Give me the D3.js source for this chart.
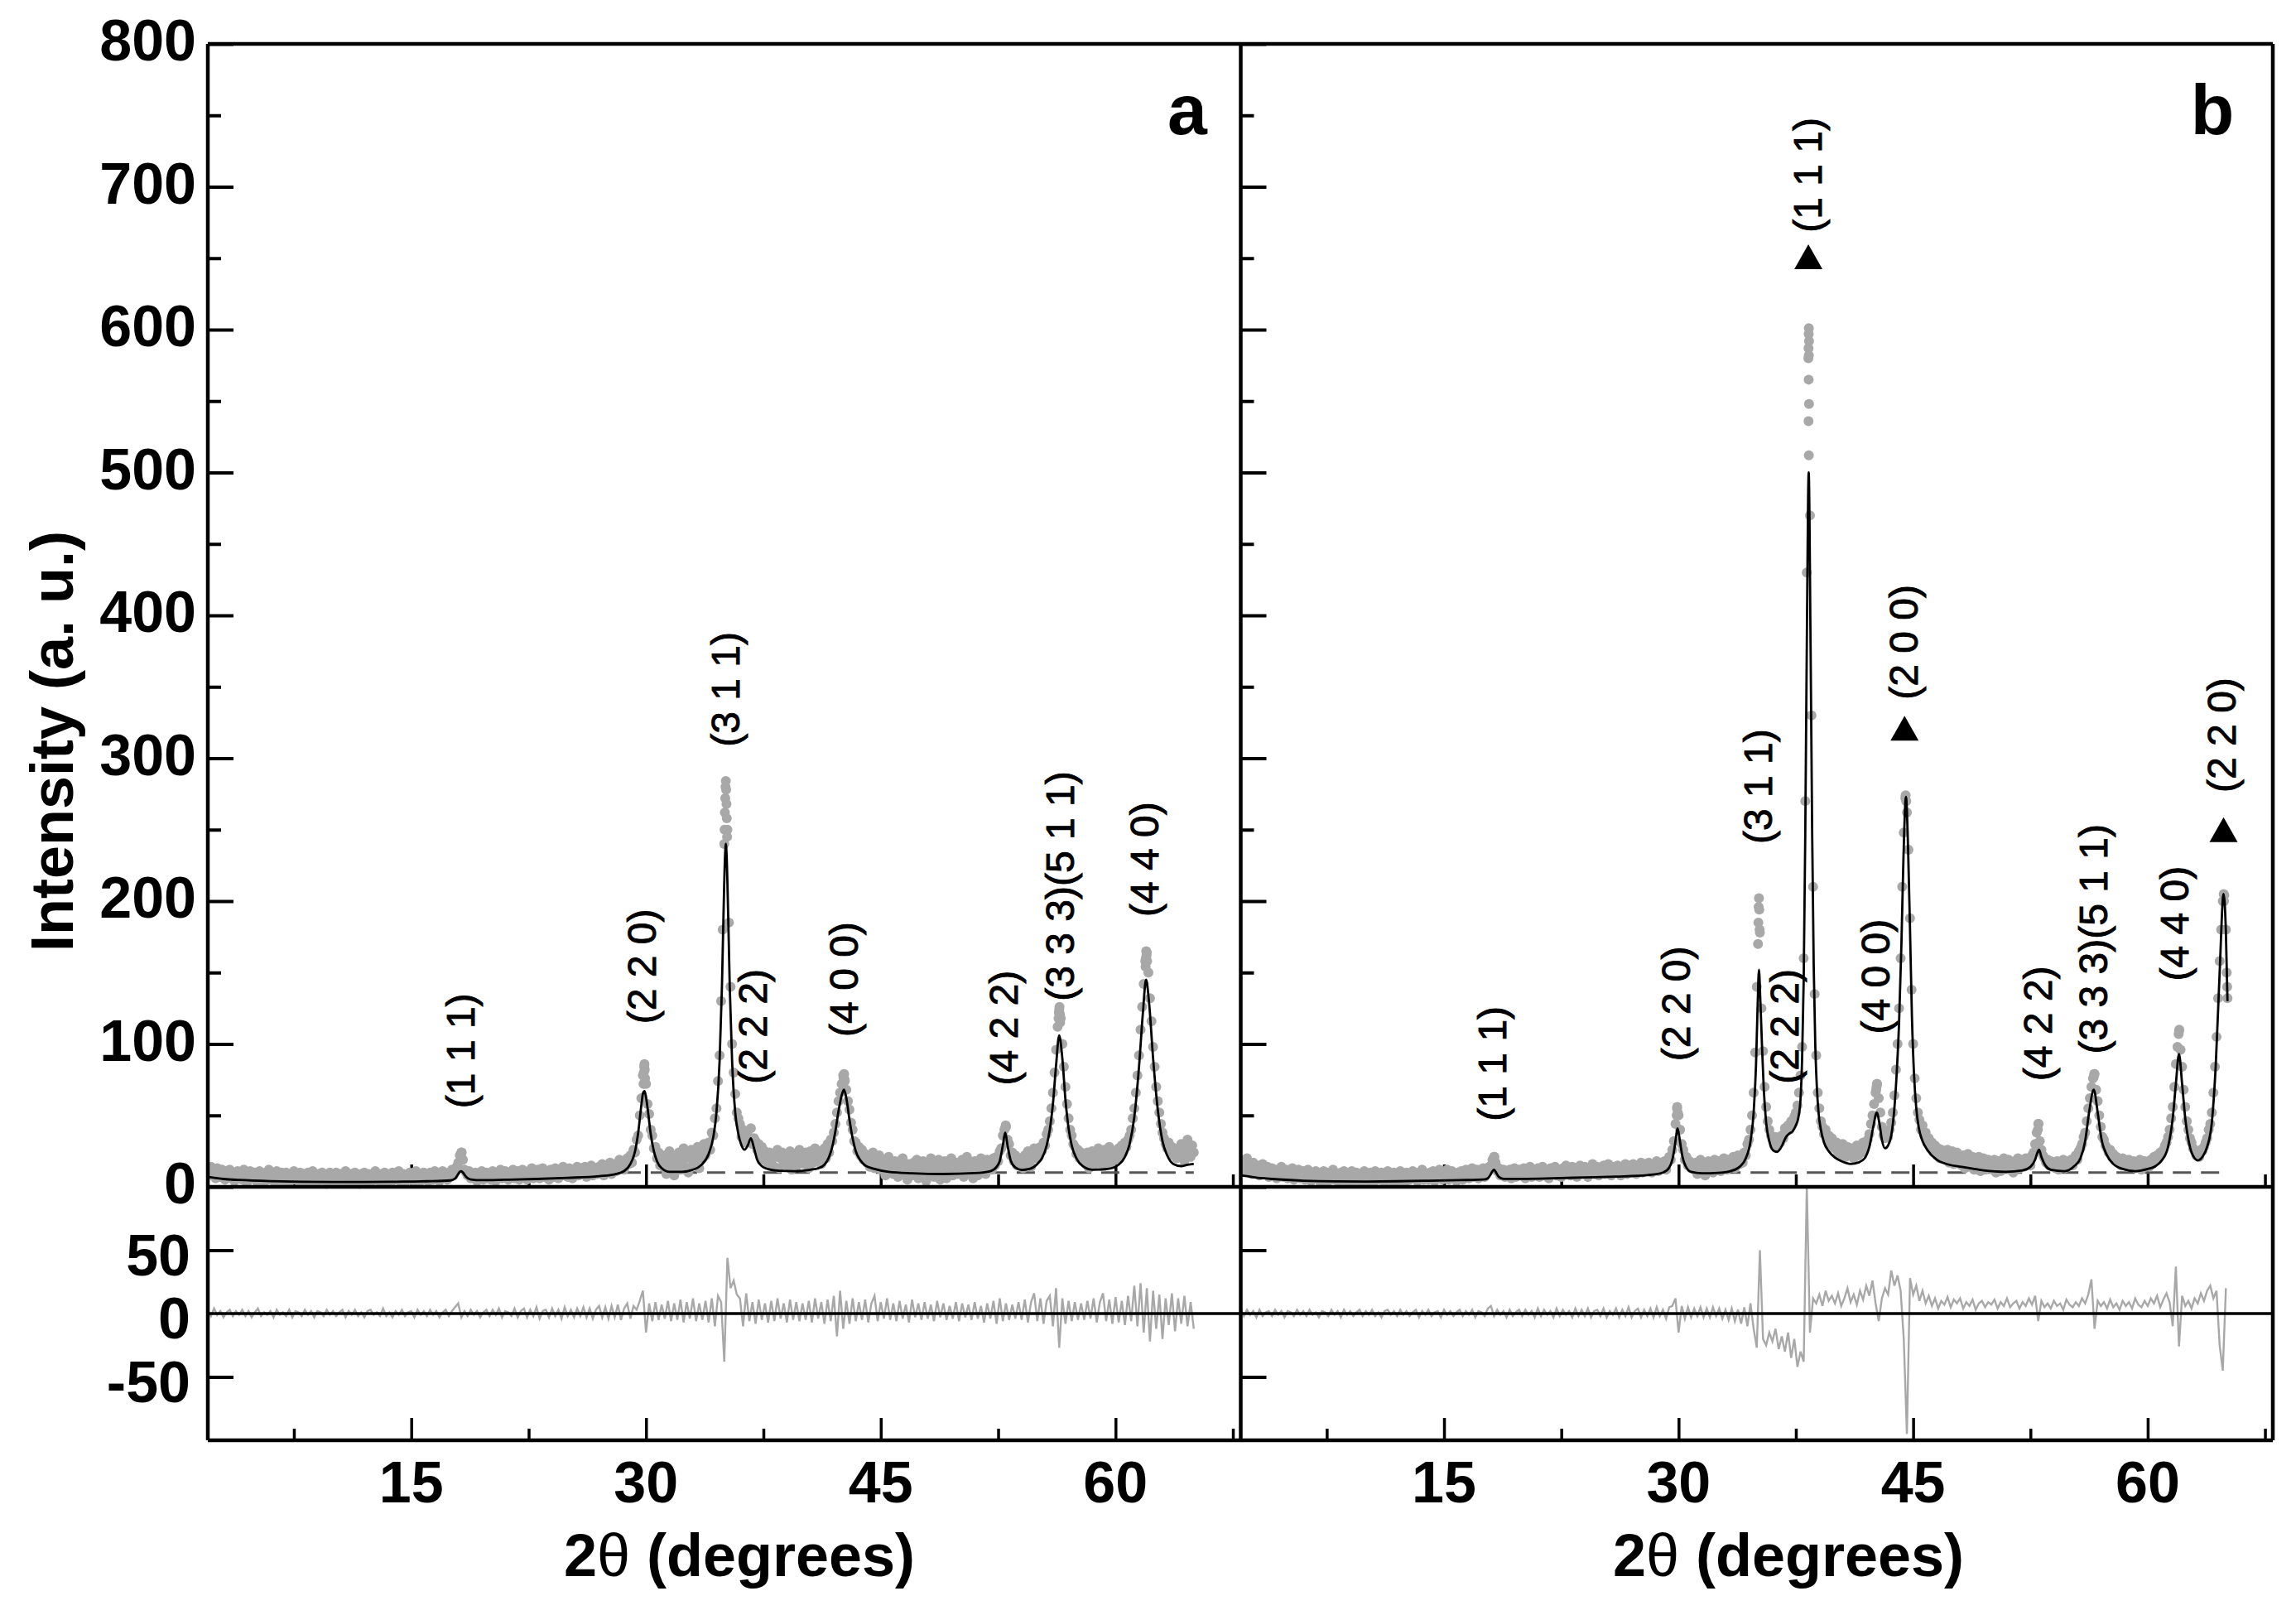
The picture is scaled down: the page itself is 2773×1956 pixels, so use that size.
<!DOCTYPE html>
<html><head><meta charset="utf-8">
<script src="https://cdn.jsdelivr.net/npm/d3@7"></script>
<style>body{margin:0;background:#fff}svg{display:block}text{font-family:"Liberation Sans",Arial,Helvetica,sans-serif}</style>
</head><body><svg id="c" width="2773" height="1956"></svg>
<script>
// ---------------- DATA ----------------
const xDomain = [2, 68];
const mainDomain = [0, 800];
const resDomain = [-100, 100];
const mainTicks = [0,100,200,300,400,500,600,700,800];
const mainMinor = [50,150,250,350,450,550,650,750];
const resTicks = [-50,0,50];
const xMajor = [15,30,45,60];
const xMinor = [7.5,22.5,37.5,52.5,67.5];
const obsStart = 2.0, obsStep = 0.1;   // observed scan grid (deg)
const resStart = 2.0, resStep = 0.2;   // residual grid (deg)

// panel a: observed intensity, 2.0 .. 65.0 deg
const obsA = [
12,9,14,8,11,6,13,10,7,12, 9,5,11,8,12,6,10,4,9,11, 7,10,5,12,8,3,9,11,6,8, 10,4,8,11,6,9,3,10,7,12,
5,9,7,3,11,8,6,10,4,8, 10,6,3,9,7,11,5,8,4,10, 7,3,9,6,10,4,8,11,5,7, 3,9,6,10,5,8,2,7,10,6,
8,4,10,6,3,9,7,5,11,4, 6,9,3,8,10,5,7,2,9,6, 10,4,7,9,3,8,6,11,5,7, 3,9,6,10,4,8,7,3,10,6,
8,5,11,4,7,9,3,8,6,10, 5,8,4,11,7,3,9,6,10,5, 8,4,10,7,5,11,6,9,4,8, 11,6,9,5,10,7,12,8,10,14,
17,22,24,19,12,10,8,11,6,9, 6,10,4,9,7,11,5,8,10,6, 9,5,11,7,4,10,8,12,6,9, 11,7,5,10,8,12,6,9,11,5,
9,12,7,10,5,11,8,13,6,10, 8,12,6,10,13,7,11,9,5,12, 10,7,13,9,6,12,10,14,8,11, 7,13,10,6,12,9,14,8,11,13,
9,14,7,12,10,15,8,13,11,9, 14,10,16,8,12,15,11,17,9,13, 16,11,15,19,13,17,12,18,20,16, 22,17,26,24,33,36,50,62,78,86,
72,58,51,40,36,27,28,20,24,15, 20,14,22,9,18,25,13,19,8,21, 16,24,12,19,27,14,22,10,20,26, 15,23,18,28,13,25,20,30,22,27,
31,26,38,36,48,55,74,92,130,180, 240,284,250,185,140,100,80,65,52,48, 44,35,40,31,38,36,33,41,30,34, 32,26,30,22,28,19,25,21,16,24,
18,23,14,21,26,13,20,24,16,22, 15,21,25,12,19,23,14,20,26,17, 22,16,24,19,13,25,20,17,27,21, 18,25,16,22,27,20,30,24,33,32,
38,44,52,60,66,72,78,74,68,60, 54,45,40,32,31,25,28,22,26,19, 23,17,21,14,19,24,13,20,16,22, 12,19,15,8,17,21,11,16,9,18,
14,7,18,12,20,9,15,5,16,13, 8,17,11,19,6,14,10,18,12,4, 15,9,20,13,7,16,11,19,5,14, 10,18,6,15,12,20,8,14,17,9,
16,11,19,7,14,21,10,17,13,6, 18,12,8,16,20,11,15,9,19,14, 17,12,20,15,21,18,25,27,36,40, 42,33,30,22,24,18,22,15,20,17,
18,13,22,16,25,19,14,23,27,20, 26,22,28,25,31,29,37,40,46,55, 66,80,96,112,124,118,100,84,70,58, 48,40,36,30,28,23,26,20,24,18,
21,16,24,13,20,25,15,22,18,27, 17,23,14,26,19,22,28,16,24,20, 25,19,27,22,29,24,31,28,33,36, 40,48,55,66,78,92,110,126,142,158,
164,150,132,116,98,84,70,60,52,44, 38,34,30,27,31,24,28,22,26,20, 27,22,30,24,18,28,33,25,21,29, 24
];
// panel a: extra observed points read near peak tops [deg, intensity]
const obsPeakA = [[18.18,23],[18.22,24],[29.84,72],[29.86,80],[29.88,84],[29.92,82],[29.94,76],
[35.02,250],[35.04,262],[35.06,272],[35.08,280],[35.12,278],[35.14,268],[35.16,258],[35.18,245],
[42.58,72],[42.62,76],[42.66,79],[42.7,75],[52.94,41],[52.98,43],
[56.36,118],[56.38,122],[56.42,126],[56.44,121],[56.46,115],
[61.92,154],[61.94,160],[61.96,165],[61.98,162],[62.02,158]];
// panel a: calculated profile [deg, intensity]
const fitA = [[2,7],[3,5.5],[4,4.8],[6,4],[8,3.6],[10,3.4],[12,3.4],[14,3.6],[16,3.9],[17.5,4.5],[17.8,5.8],[18.0,9],[18.1,10.5],[18.2,11],[18.3,10],[18.5,7],[18.8,5.2],[19.5,4.7],[21,5],[23,5.5],[25,6.3],[27,7.5],[28,8.8],[28.6,11],[29.0,16],[29.3,25],[29.5,38],[29.7,57],[29.82,66],[29.9,67],[29.98,64],[30.1,55],[30.3,37],[30.5,25],[30.7,18],[31.0,13],[31.5,10.5],[32.3,10.5],[33.0,12],[33.5,15],[34.0,23],[34.3,35],[34.5,52],[34.7,88],[34.85,140],[34.95,190],[35.05,232],[35.1,240],[35.15,232],[35.25,190],[35.35,140],[35.5,88],[35.7,52],[35.9,37],[36.1,29],[36.3,26],[36.5,29],[36.7,34],[36.9,27],[37.1,19],[37.4,14.5],[37.8,12.4],[38.5,11.2],[39.5,11],[40.5,12],[41.0,13],[41.4,15.5],[41.7,21],[41.9,28],[42.1,39],[42.3,53],[42.5,64],[42.65,68],[42.8,62],[43.0,47],[43.2,34],[43.4,25],[43.7,18.5],[44.0,15],[44.6,12.5],[45.5,10.5],[47,9.5],[49,9],[51,9.6],[52.0,11],[52.4,14],[52.6,18],[52.8,29],[52.95,38],[53.1,29],[53.3,18.5],[53.6,13.5],[54.0,11.8],[54.5,12.5],[55.0,16],[55.3,20],[55.6,29],[55.8,40],[56.0,58],[56.2,85],[56.4,106],[56.6,90],[56.8,61],[57.0,41],[57.2,29],[57.5,20],[57.9,14.5],[58.5,12],[59.5,12.5],[60.2,15.5],[60.6,21],[60.9,30],[61.2,49],[61.5,84],[61.75,122],[61.95,145],[62.15,128],[62.4,90],[62.7,54],[63.0,32],[63.3,22],[63.7,16],[64.2,14.5],[64.6,15.5],[65.0,16]];
// panel a: background (dashed)
const bgA = [[28.5,10],[65,10]];
// panel a: difference curve, 2.0 .. 65.0 deg step 0.2
const resA = [
3,-2,4,-1,2,-3,1,3,-2,2, -1,3,-2,2,-3,1,4,-2,1,-1, 2,-3,3,-1,1,-2,3,-3,2,1, -2,3,-1,2,-3,2,1,-2,3,-1,
2,-2,1,3,-3,2,-1,3,-2,1, -3,2,3,-1,1,-2,4,-2,1,-3, 2,-1,3,-2,1,2,-3,3,-1,2, -2,3,-1,2,-3,1,3,-2,2,5,
8,-3,2,-2,3,-1,2,-3,1,3, -2,3,-1,4,-3,2,1,-2,4,-3, 2,4,-3,3,-2,5,-4,2,3,-3, 4,-2,3,-4,5,-2,3,-3,4,-2,
5,-3,4,-4,3,6,-3,5,-4,6, -3,7,-5,4,8,-4,6,3,10,18, -15,8,-6,9,-5,7,-4,10,-6,8, -5,11,-7,9,-4,12,-6,8,-5,10,
-7,12,-10,14,9,-38,44,20,26,15, 12,-10,16,-6,9,-8,11,-5,8,-7, 10,-6,12,-4,8,-7,11,-5,9,-6, 8,-5,10,-7,12,-4,9,-8,11,-6,
14,-18,18,-12,10,-8,12,-6,9,-5, 11,-7,8,14,-6,9,-4,12,-5,8, -6,10,-4,7,-7,11,-3,8,-5,9, -4,7,-6,10,-3,8,-5,6,-4,9,
-6,8,-3,7,-5,9,-4,6,-7,8, -4,10,-8,12,-6,8,-5,7,-4,9, -5,11,-7,9,16,-6,12,-8,10,14, -10,20,-27,12,-8,10,-6,9,-5,8,
-5,10,-4,12,-7,9,16,-6,11,-8, 13,-7,10,-9,14,-6,22,-10,24,-15, 20,-22,18,-12,15,-20,12,-9,16,-14, 12,-8,14,-10,9,-12
];
const annotA = [
 {t:"(1 1 1)", x:18.15, y:55}, {t:"(2 2 0)", x:29.75, y:114}, {t:"(3 1 1)", x:35.05, y:308},
 {t:"(2 2 2)", x:36.8, y:72}, {t:"(4 0 0)", x:42.65, y:105}, {t:"(4 2 2)", x:52.85, y:71},
 {t:"(3 3 3)(5 1 1)", x:56.45, y:130}, {t:"(4 4 0)", x:61.85, y:189}
];
const triA = [];

// panel b: observed intensity, 2.0 .. 65.0 deg
const obsB = [
14,18,11,16,20,12,15,9,17,13, 10,15,8,13,16,9,12,14,7,11, 13,8,11,6,12,9,14,7,10,12, 6,11,9,13,5,10,8,12,6,9,
11,5,9,12,7,4,10,8,11,6, 9,3,8,11,6,10,4,9,7,12, 5,9,7,3,10,6,11,8,4,9, 7,11,4,8,10,5,9,3,8,11,
6,9,4,10,7,3,11,6,8,5, 10,7,3,9,11,6,8,4,10,7, 4,9,11,6,8,3,10,7,5,9, 11,6,8,4,10,7,12,5,9,8,
5,10,7,11,4,9,6,12,8,5, 10,7,12,5,9,11,6,8,4,10, 7,11,5,9,12,8,6,10,13,7, 9,12,6,10,8,13,7,9,11,14,
15,19,21,17,11,13,8,10,12,7, 11,8,12,6,10,13,7,9,12,8, 10,13,6,11,9,14,7,12,10,8, 13,7,11,14,8,10,12,6,13,9,
11,14,8,12,10,7,13,11,15,9, 12,8,14,10,13,7,11,15,9,12, 14,10,7,13,11,16,9,12,14,8, 13,10,15,9,12,16,11,8,14,12,
10,15,12,8,14,11,16,9,13,15, 11,16,13,9,15,12,17,10,14,16, 12,17,14,10,16,13,18,11,15,17, 14,18,12,17,21,19,26,32,44,55,
50,40,30,26,19,21,15,18,13,16, 12,17,9,15,19,11,16,8,14,18, 13,17,10,19,14,12,18,11,16,20, 15,12,19,14,17,21,13,18,22,16,
20,17,24,22,30,33,40,50,66,94, 140,185,178,125,95,70,56,46,40,36, 33,29,35,28,33,31,36,34,41,39, 43,40,46,44,49,52,57,66,78,98,
160,270,430,580,470,330,210,135,92,66, 55,46,42,37,40,33,36,30,34,28, 27,31,24,29,22,30,25,21,28,24, 23,27,20,25,29,22,28,24,31,27,
30,33,37,44,50,58,66,72,62,52, 42,36,34,38,35,40,45,52,64,82, 100,125,160,210,248,272,262,236,188,138, 100,76,62,52,47,40,43,36,38,31,
34,27,31,24,29,22,27,20,26,23, 24,19,26,17,22,25,16,21,24,18, 20,15,22,13,19,23,14,18,21,12, 18,14,21,11,17,20,12,16,19,13,
17,12,19,10,15,18,11,16,20,13, 15,19,12,17,10,18,14,20,13,16, 17,14,20,16,19,15,22,24,30,38, 44,32,26,22,20,17,19,15,18,14,
16,13,18,12,17,15,19,13,16,18, 16,19,15,20,22,19,25,27,30,35, 38,46,55,62,70,76,79,68,60,50, 42,35,33,29,27,24,26,21,23,19,
21,17,19,15,20,16,18,14,19,17, 15,18,13,17,14,19,12,16,18,14, 17,14,19,16,21,18,22,20,24,23, 26,29,31,35,40,48,56,70,86,98,
109,96,84,68,56,46,40,34,31,27, 25,22,24,21,26,25,28,31,34,40, 44,52,66,84,105,132,158,180,200,204, 180
];
const obsPeakB = [[18.18,20],[18.22,21],[29.88,50],[29.91,56],[29.95,52],
[35.08,170],[35.12,196],[35.14,202],[35.16,194],[35.18,180],
[38.33,601],[38.32,597],[38.34,592],[38.31,587],[38.33,582],[38.32,565],[38.34,548],[38.31,536],[38.33,512],
[42.64,68],[42.66,70],[42.68,72],[44.52,274],[44.56,270],[52.98,40],[53.02,44],[56.55,77],[56.58,79],
[61.98,107],[62.02,110],[64.86,205],[64.88,200],[65.05,150],[65.08,140],[65.1,132]];
const fitB = [[2,8],[3,6.5],[4,5.5],[6,4.3],[8,3.8],[10,3.7],[12,3.9],[14,4.3],[16,4.7],[17.5,5.1],[17.8,6],[18.0,9],[18.1,11],[18.2,12],[18.3,10.5],[18.5,7],[18.8,5.6],[20,5.6],[22,6],[24,6.6],[26,7.2],[28,8.2],[29,10],[29.4,13.5],[29.6,19],[29.75,28],[29.85,36],[29.93,41],[30.0,38],[30.1,31],[30.25,21],[30.45,14.5],[30.8,10.5],[31.5,9.5],[32.5,9.8],[33.3,11],[33.9,14],[34.3,20],[34.6,32],[34.8,52],[34.95,85],[35.05,125],[35.14,152],[35.23,130],[35.33,100],[35.45,68],[35.6,45],[35.8,32],[36.05,25.5],[36.3,24.5],[36.6,28.5],[36.85,34.5],[37.05,37],[37.3,39],[37.5,43],[37.65,48],[37.8,62],[37.9,90],[38.0,145],[38.1,245],[38.2,380],[38.32,500],[38.44,380],[38.54,250],[38.64,155],[38.74,100],[38.85,68],[38.95,52],[39.1,40],[39.3,31],[39.6,25],[40.0,20.5],[40.5,17.5],[41.0,16],[41.5,17],[41.9,20],[42.2,28],[42.45,42],[42.67,52],[42.85,44],[43.0,33],[43.2,27],[43.4,29],[43.6,36],[43.8,55],[43.95,80],[44.1,115],[44.25,170],[44.38,230],[44.54,273],[44.68,235],[44.8,180],[44.92,120],[45.05,80],[45.2,55],[45.35,42],[45.6,32],[45.9,26],[46.5,19],[47.3,15.5],[48.1,14],[49.5,11.5],[50.9,10.5],[52.0,11.5],[52.5,14],[52.8,19],[52.95,24],[53.05,26],[53.2,21],[53.45,15],[53.8,12],[54.7,11],[55.3,14.5],[55.7,20],[56.0,32],[56.25,52],[56.55,68],[56.8,52],[57.05,33],[57.4,22],[57.8,16],[58.4,12.5],[59.2,11],[60.0,12.5],[60.5,14.5],[60.9,18.5],[61.3,28],[61.6,48],[61.8,72],[62.0,93],[62.2,72],[62.4,48],[62.7,28],[63.0,20],[63.2,18.5],[63.5,21],[63.8,28],[64.1,45],[64.35,85],[64.6,150],[64.85,205],[65.0,178],[65.1,130]];
const bgB = [[31,10],[65,10]];
const resB = [
4,-2,3,-1,2,-3,3,-2,1,2, -2,3,-1,2,-3,2,1,-2,3,-1, 2,-2,3,-1,1,-3,2,1,-2,3, -1,2,-3,3,-1,2,-2,1,3,-2,
2,-1,3,-2,1,-3,2,3,-1,2, -2,3,-1,2,-2,1,3,-3,2,-1, 3,-2,1,2,-3,3,-1,2,-2,1, 3,-2,2,-1,3,-3,2,1,-2,4,
6,-2,3,-1,2,-3,3,-2,1,3, -2,3,-1,2,-3,4,-2,3,-1,2, -3,4,-2,3,-1,2,-3,4,-2,3, -2,4,-3,2,3,-2,4,-3,2,-1,
4,-3,3,-2,5,-3,2,4,-3,3, -2,4,-3,5,-2,3,-4,5,6,12, -15,6,-4,5,-3,4,-2,5,-3,4, -3,5,-2,4,-4,3,-5,4,-6,3,
-8,5,-10,8,-12,-27,50,-20,-25,-15, -22,-12,-28,-18,-30,-15,-35,-20,-42,-30, -38,100,-15,12,8,15,6,18,10,14, 8,16,6,12,20,9,15,7,18,11,
22,14,26,8,-6,12,20,15,34,22, 30,18,-20,-95,28,15,22,10,18,8, 14,6,12,4,10,7,13,5,11,8, 12,4,9,6,11,3,8,10,5,9,
7,11,4,9,6,12,5,8,10,4, 9,6,12,7,14,-6,10,5,8,4, 10,6,8,3,11,7,5,9,6,12, 8,15,27,-12,10,6,9,4,11,5,
8,3,10,6,9,4,12,7,5,10, 6,12,8,14,5,11,16,9,-10,37, -26,14,6,10,4,12,8,16,10,18, 22,12,18,-25,-45,20
];
const annotB = [
 {t:"(1 1 1)", x:18.1, y:46}, {t:"(2 2 0)", x:29.83, y:88}, {t:"(3 1 1)", x:35.1, y:240},
 {t:"(2 2 2)", x:36.76, y:72}, {t:"(4 0 0)", x:42.58, y:107}, {t:"(4 2 2)", x:52.97, y:74},
 {t:"(3 3 3)(5 1 1)", x:56.5, y:93}, {t:"(4 4 0)", x:61.7, y:144},
 {t:"(1 1 1)", x:38.25, y:668}, {t:"(2 0 0)", x:44.4, y:341}, {t:"(2 2 0)", x:64.75, y:276}
];
const triB = [{x:38.3, y:651}, {x:44.45, y:321}, {x:64.85, y:250}];

const panelLabels = ["a", "b"];
const yTitle = "Intensity (a. u.)";
const xTitleMain = "2", xTitleSym = "θ", xTitleRest = " (degrees)";

// ---------------- DRAW ----------------
const svg = d3.select('#c');
svg.append('rect').attr('width',2773).attr('height',1956).attr('fill','#fff');
const yMain = d3.scaleLinear().domain(mainDomain).range([1433, 53]);
const yRes = d3.scaleLinear().domain(resDomain).range([1739, 1433]);
const FONT = '"Liberation Sans",Arial,Helvetica,sans-serif';

const panels = [
 {id:'a', x0:251, x1:1498.5, obs:obsA, pk:obsPeakA, fit:fitA, bg:bgA, res:resA, ann:annotA, tri:triA, lab:panelLabels[0], labX:1434, xt:893, ylab:true},
 {id:'b', x0:1498.5, x1:2745, obs:obsB, pk:obsPeakB, fit:fitB, bg:bgB, res:resB, ann:annotB, tri:triB, lab:panelLabels[1], labX:2672, xt:2160, ylab:false}
];

function styleAxis(sel, w){
  sel.select('.domain').remove();
  sel.selectAll('.tick line').attr('stroke','#000').attr('stroke-width',w);
  sel.selectAll('.tick text').remove();
}

panels.forEach(p=>{
  const x = d3.scaleLinear().domain(xDomain).range([p.x0, p.x1]);
  const cid = 'clip'+p.id;
  svg.append('clipPath').attr('id',cid).append('rect')
    .attr('x',p.x0).attr('y',53).attr('width',p.x1-p.x0).attr('height',1739-53);
  const g = svg.append('g').attr('clip-path',`url(#${cid})`);

  // inward ticks (under data)
  g.append('g').attr('transform',`translate(0,${yMain(0)})`)
    .call(d3.axisTop(x).tickValues(xMajor).tickSize(27)).call(s=>styleAxis(s,3.5));
  g.append('g').attr('transform',`translate(0,${yMain(0)})`)
    .call(d3.axisTop(x).tickValues(xMinor).tickSize(15)).call(s=>styleAxis(s,3.5));
  g.append('g').attr('transform',`translate(0,${yRes(-100)})`)
    .call(d3.axisTop(x).tickValues(xMajor).tickSize(27)).call(s=>styleAxis(s,3.5));
  g.append('g').attr('transform',`translate(0,${yRes(-100)})`)
    .call(d3.axisTop(x).tickValues(xMinor).tickSize(14)).call(s=>styleAxis(s,3.5));
  g.append('g').attr('transform',`translate(${p.x0},0)`)
    .call(d3.axisRight(yMain).tickValues(mainTicks).tickSize(31)).call(s=>styleAxis(s,4));
  g.append('g').attr('transform',`translate(${p.x0},0)`)
    .call(d3.axisRight(yMain).tickValues(mainMinor).tickSize(16)).call(s=>styleAxis(s,4));
  g.append('g').attr('transform',`translate(${p.x0},0)`)
    .call(d3.axisRight(yRes).tickValues(resTicks.filter(v=>v!==0)).tickSize(31)).call(s=>styleAxis(s,4));

  // background (dashed)
  g.append('path').datum(p.bg)
    .attr('d', d3.line().x(d=>x(d[0])).y(d=>yMain(d[1])))
    .attr('fill','none').attr('stroke','#555').attr('stroke-width',3.2).attr('stroke-dasharray','22,12');

  // observed points
  const pts = p.obs.map((v,i)=>[+(obsStart+i*obsStep).toFixed(2), v]).concat(p.pk);
  g.append('g').selectAll('circle').data(pts).join('circle')
    .attr('cx',d=>x(d[0])).attr('cy',d=>yMain(d[1])).attr('r',6).attr('fill','#a8a8a8');

  // calculated profile
  g.append('path').datum(p.fit)
    .attr('d', d3.line().x(d=>x(d[0])).y(d=>yMain(d[1])).curve(d3.curveMonotoneX))
    .attr('fill','none').attr('stroke','#000').attr('stroke-width',2.8).attr('stroke-linejoin','round');

  // residual
  const rp = p.res.map((v,i)=>[+(resStart+i*resStep).toFixed(2), v]);
  g.append('path').datum(rp)
    .attr('d', d3.line().x(d=>x(d[0])).y(d=>yRes(d[1])))
    .attr('fill','none').attr('stroke','#a8a8a8').attr('stroke-width',2.4);
  g.append('line').attr('x1',x(2)).attr('x2',x(68)).attr('y1',yRes(0)).attr('y2',yRes(0))
    .attr('stroke','#000').attr('stroke-width',3.5);

  // annotations
  svg.append('g').selectAll('text').data(p.ann).join('text')
    .attr('transform',d=>`translate(${x(d.x)},${yMain(d.y)}) rotate(-90)`)
    .attr('dy','0.35em').attr('font-size',48).attr('font-family',FONT).attr('fill','#000')
    .attr('stroke','#000').attr('stroke-width',0.9)
    .text(d=>d.t);
  svg.append('g').selectAll('path').data(p.tri).join('path')
    .attr('transform',d=>`translate(${x(d.x)},${yMain(d.y)})`)
    .attr('d','M0,-15L17,15L-17,15Z').attr('fill','#000');

  // panel letter
  svg.append('text').attr('x',p.labX).attr('y',162).attr('text-anchor','middle')
    .attr('font-size',86).attr('font-weight','bold').attr('font-family',FONT).text(p.lab);

  // x tick labels
  svg.append('g').selectAll('text').data(xMajor).join('text')
    .attr('x',d=>x(d)).attr('y',1814).attr('text-anchor','middle')
    .attr('font-size',70).attr('font-weight','bold').attr('font-family',FONT).text(d=>d);

  // x title
  const xt = svg.append('text').attr('x',p.xt).attr('y',1903).attr('text-anchor','middle')
    .attr('font-size',72).attr('font-weight','bold').attr('font-family',FONT);
  xt.append('tspan').text(xTitleMain);
  xt.append('tspan').attr('font-weight','normal').text(xTitleSym);
  xt.append('tspan').text(xTitleRest);

  // y tick labels
  if (p.ylab){
    svg.append('g').selectAll('text').data(mainTicks).join('text')
      .attr('x',237).attr('y',d=>yMain(d)+20).attr('text-anchor','end')
      .attr('font-size',70).attr('font-weight','bold').attr('font-family',FONT).text(d=>d);
    svg.append('g').selectAll('text').data(resTicks).join('text')
      .attr('x',230).attr('y',d=>yRes(d)+30).attr('text-anchor','end')
      .attr('font-size',70).attr('font-weight','bold').attr('font-family',FONT).text(d=>d);
  }
});

// frame
const fr = svg.append('g').attr('stroke','#000').attr('stroke-width',4.5).attr('fill','none');
[[251,53,2745,53],[251,1433,2745,1433],[251,1739,2745,1739],
 [251,53,251,1739],[1498.5,53,1498.5,1739],[2745,53,2745,1739]].forEach(l=>{
  fr.append('line').attr('x1',l[0]).attr('y1',l[1]).attr('x2',l[2]).attr('y2',l[3]);
});

// y title
svg.append('text').attr('transform','translate(88,895) rotate(-90)').attr('text-anchor','middle')
  .attr('font-size',72).attr('font-weight','bold').attr('font-family',FONT).text(yTitle);
</script></body></html>
